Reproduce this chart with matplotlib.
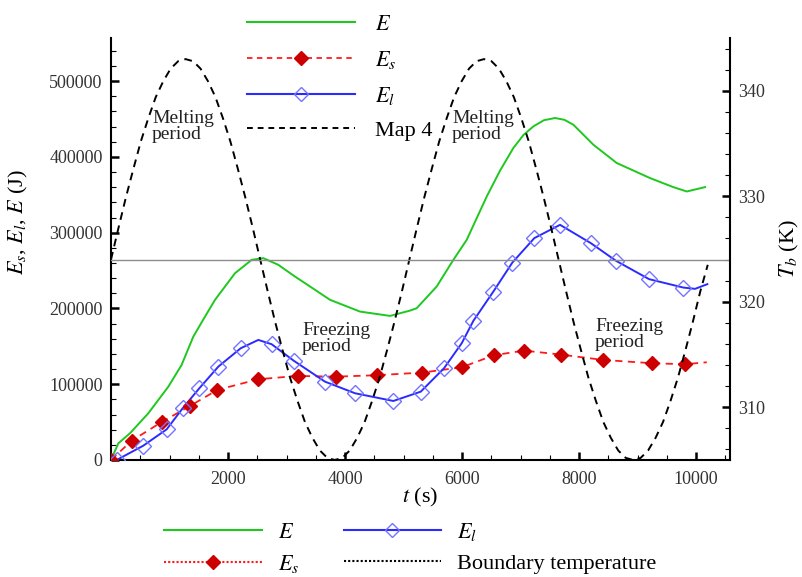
import numpy as np
import matplotlib
matplotlib.use('Agg')
import matplotlib.pyplot as plt
from matplotlib.lines import Line2D
from matplotlib.ticker import MultipleLocator, FixedLocator, FuncFormatter

plt.rcParams['font.family'] = ['Liberation Serif', 'DejaVu Serif']
plt.rcParams['mathtext.fontset'] = 'stix'

# ---------------- data ----------------
t_E = [0, 125, 325, 638, 980, 1207, 1407, 1607, 1778, 2120, 2405, 2604, 2860, 3145,
       3316, 3744, 4256, 4769, 5111, 5225, 5567, 5852, 6080, 6422, 6650, 6877, 7050,
       7219, 7400, 7590, 7750, 7903, 8245, 8644, 9214, 9600, 9841, 10154]
E = [0, 22000, 35300, 61700, 96800, 125500, 162900, 189300, 211400, 246600, 264200,
     266400, 257600, 242100, 233400, 211400, 195900, 190200, 197200, 200400, 229000,
     264200, 290600, 347800, 382000, 411800, 429000, 440300, 448500, 451400, 449000,
     442500, 416100, 392000, 372100, 360500, 354400, 360200]

t_Es = [0, 354, 877, 1350, 1817, 2518, 3191, 3841, 4541, 5321, 5995, 6547, 7060,
        7692, 8410, 9253, 9812]
Es = [0, 25500, 50600, 71300, 92500, 106600, 111000, 110000, 111900, 115400, 122400,
      138300, 144400, 139100, 132100, 127700, 126400]
t_Es_end = [10183]
Es_end = [129000]

t_El = [97, 552, 952, 1225, 1510, 1835, 2217, 2746, 3128, 3658, 4171, 4826, 5294,
        5692, 5995, 6193, 6535, 6860, 7236, 7675, 8200, 8632, 9197, 9783]
El = [0, 18900, 40500, 68300, 94700, 123300, 147500, 152800, 130800, 103400, 88100,
      77900, 90200, 121100, 154200, 183600, 222300, 260600, 292900, 310400, 286300,
      262900, 238700, 227600]
t_El_line = [0, 97, 552, 952, 1225, 1510, 1835, 2217, 2518, 2746, 3128, 3658, 4171,
             4826, 5294, 5692, 5995, 6193, 6535, 6860, 7236, 7675, 8200, 8632, 9197,
             9783, 9983, 10193]
El_line = [0, 0, 18900, 40500, 68300, 94700, 123300, 147500, 158500, 152800, 130800,
           103400, 88100, 77900, 90200, 121100, 154200, 183600, 222300, 260600,
           292900, 310400, 286300, 262900, 238700, 227600, 225900, 232100]

t_T = [0, 128, 255, 383, 510, 638, 765, 893, 1020, 1148, 1275, 1403, 1530, 1658, 1785,
       1913, 2040, 2168, 2295, 2423, 2550, 2678, 2805, 2933, 3060, 3188, 3315, 3443,
       3570, 3698, 3825, 3953, 4080, 4208, 4335, 4463, 4590, 4718, 4845, 4973, 5100,
       5228, 5355, 5483, 5610, 5738, 5865, 5993, 6120, 6248, 6375, 6503, 6630, 6758,
       6885, 7013, 7140, 7268, 7395, 7523, 7650, 7778, 7905, 8033, 8160, 8288, 8415,
       8543, 8670, 8798, 8925, 9053, 9180, 9308, 9435, 9563, 9690, 9818, 9945, 10073,
       10200]
T = [324.0, 327.0, 329.9, 332.6, 335.2, 337.4, 339.4, 340.9, 342.1, 342.8, 343.0,
     342.8, 342.1, 340.9, 339.4, 337.4, 335.2, 332.6, 329.9, 327.0, 324.0,
     321.0, 318.1, 315.4, 312.8, 310.6, 308.6, 307.1, 305.9, 305.2, 305.0,
     305.2, 305.9, 307.1, 308.6, 310.6, 312.8, 315.4, 318.1, 321.0, 324.0,
     327.0, 329.9, 332.6, 335.2, 337.4, 339.4, 340.9, 342.1, 342.8, 343.0,
     342.8, 342.1, 340.9, 339.4, 337.4, 335.2, 332.6, 329.9, 327.0, 324.0,
     321.0, 318.1, 315.4, 312.8, 310.6, 308.6, 307.1, 305.9, 305.2, 305.0,
     305.2, 305.9, 307.1, 308.6, 310.6, 312.8, 315.4, 318.1, 321.0, 323.5]
T_ref = 324.0

x_ticks = [2000, 4000, 6000, 8000, 10000]

# ---------------- styling ----------------
GREEN = '#1ec81e'
RED_L = '#ff1a1a'
RED_M = '#cc0000'
BLUE_L = '#2b2bff'
BLUE_M = '#7373ff'
TICKC = '#333333'

fig = plt.figure(figsize=(8.03, 5.77), dpi=100)
ax = fig.add_axes([111 / 803, 1 - 460 / 577, 619 / 803, 422 / 577])
ax2 = ax.twinx()

ax.plot(t_E, E, color=GREEN, lw=1.4, zorder=3)
ax.plot(t_Es + t_Es_end, Es + Es_end, color=RED_L, lw=1.3, ls=(0, (4, 3)), zorder=3)
ax.plot(t_Es, Es, ls='none', marker='D', ms=7, mfc=RED_M, mec=RED_M, zorder=4)
ax.plot(t_El_line, El_line, color=BLUE_L, lw=1.4, zorder=3)
ax.plot(t_El, El, ls='none', marker='D', ms=8, mfc='none', mec=BLUE_M, mew=1.0, zorder=4)

ax2.plot(t_T, T, color='black', lw=1.4, ls=(0, (4, 3)))
ax2.axhline(T_ref, color='#8c8c8c', lw=1.0)

ax.set_xlim(0, 10580)
ax.set_ylim(0, 557000)
ax2.set_ylim(305, 345)

ax.xaxis.set_major_locator(FixedLocator(x_ticks))
ax.xaxis.set_minor_locator(MultipleLocator(500))
ax.yaxis.set_major_locator(MultipleLocator(100000))
ax.yaxis.set_minor_locator(MultipleLocator(20000))
ax.yaxis.set_major_formatter(FuncFormatter(lambda v, p: f"{int(round(v))}"))
ax.xaxis.set_major_formatter(FuncFormatter(lambda v, p: f"{int(round(v))}"))
ax2.yaxis.set_major_locator(MultipleLocator(10))
ax2.yaxis.set_minor_locator(MultipleLocator(2))

for a in (ax, ax2):
    a.tick_params(which='major', direction='in', length=5.5, width=1.8, labelsize=13,
                  pad=6, labelcolor=TICKC)
    a.tick_params(which='minor', direction='in', length=3.5, width=0.8)
ax.tick_params(axis='x', which='major', pad=8)
ax.tick_params(which='both', top=False, right=False)
ax2.tick_params(which='both', left=False, top=False)

ax.spines['top'].set_visible(False)
ax.spines['right'].set_visible(False)
ax2.spines['top'].set_visible(False)
ax2.spines['left'].set_visible(False)
ax2.spines['bottom'].set_visible(False)
for s in ('left', 'bottom'):
    ax.spines[s].set_linewidth(1.5)
ax2.spines['right'].set_linewidth(1.5)

ax.set_xlabel(r'$t$ (s)', fontsize=16)
ax.xaxis.set_label_coords(0.5, -0.062)
ax.set_ylabel(r'$E_s$, $E_l$, $E$ (J)', fontsize=16)
ax.yaxis.set_label_coords(-0.131, 0.564)
ax2.set_ylabel(r'$T_b$ (K)', fontsize=16)
ax2.yaxis.set_label_coords(1.078, 0.502)

txt_kw = dict(fontsize=14, va='top', ha='left', linespacing=0.9, color='#222222')
ax.text(700, 462000, 'Melting\nperiod', **txt_kw)
ax.text(5829, 462000, 'Melting\nperiod', **txt_kw)
ax.text(3265, 182300, 'Freezing\nperiod', **txt_kw)
ax.text(8274, 187600, 'Freezing\nperiod', **txt_kw)

# top legend
h_E = Line2D([], [], color=GREEN, lw=1.5)
h_Es = Line2D([], [], color=RED_L, lw=1.3, ls=(0, (3, 2.5)), marker='D', ms=7,
              mfc=RED_M, mec=RED_M)
h_El = Line2D([], [], color=BLUE_L, lw=1.5, marker='D', ms=7.5, mfc='none',
              mec=BLUE_M, mew=1.0)
h_T = Line2D([], [], color='black', lw=1.4, ls=(0, (3, 2.5)))
fig.legend([h_E, h_Es, h_El, h_T], ['$E$', '$E_s$', '$E_l$', 'Map 4'],
           loc='center', bbox_to_anchor=(0.423, 0.865), frameon=False, fontsize=16,
           handlelength=4.86, handletextpad=0.9, labelspacing=0.62, numpoints=1,
           borderpad=0, borderaxespad=0)

# bottom legend
b_Es = Line2D([], [], color=RED_L, lw=1.5, ls=(0, (1, 1)), marker='D', ms=7,
              mfc=RED_M, mec=RED_M)
b_T = Line2D([], [], color='black', lw=1.5, ls=(0, (1, 1)))
fig.legend([h_E, b_Es, h_El, b_T], ['$E$', '$E_s$', '$E_l$', 'Boundary temperature'],
           ncol=2, loc='center', bbox_to_anchor=(0.511, 0.050), frameon=False,
           fontsize=16, handlelength=4.4, handletextpad=0.72, columnspacing=2.0,
           labelspacing=0.45, numpoints=1, borderpad=0, borderaxespad=0)

fig.savefig('out.png', dpi=100)
